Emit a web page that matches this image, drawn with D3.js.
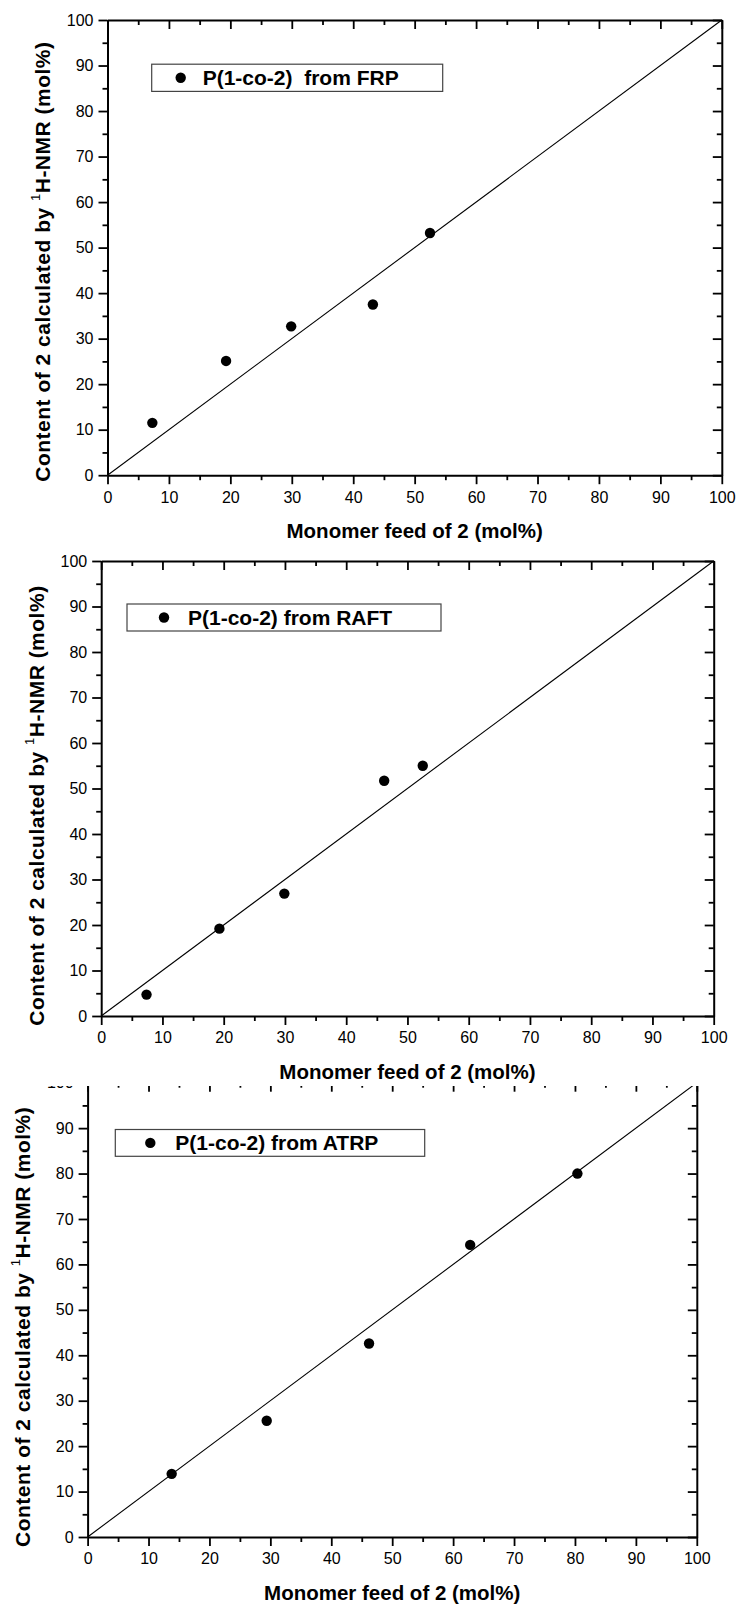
<!DOCTYPE html>
<html>
<head>
<meta charset="utf-8">
<script src="https://cdn.jsdelivr.net/npm/d3@7"></script>
<style>
  html, body { margin: 0; padding: 0; background: #fff; }
  svg { display: block; }
  text { font-family: "Liberation Sans", Arial, Helvetica, sans-serif; fill: #000; }
  .pre { white-space: pre; }
</style>
</head>
<body>
<script>
// Copolymer composition: monomer feed of 2 vs. content of 2 found by 1H-NMR
const majorTicks = [0, 10, 20, 30, 40, 50, 60, 70, 80, 90, 100];
const minorTicks = [5, 15, 25, 35, 45, 55, 65, 75, 85, 95];
const idealLine = [0, 100]; // content = feed

const frpFeed = [7.3, 19.3, 29.9, 43.2, 52.5];
const frpContent = [11.5, 25.1, 32.7, 37.5, 53.2];

const raftFeed = [7.4, 19.3, 29.9, 46.2, 52.5];
const raftContent = [4.7, 19.2, 26.9, 51.7, 55.0];

const atrpFeed = [13.8, 29.4, 46.2, 62.8, 80.4];
const atrpContent = [13.9, 25.6, 42.6, 64.3, 80.0];

const legendLabels = ["P(1-co-2)  from FRP", "P(1-co-2) from RAFT", "P(1-co-2) from ATRP"];
const xTitle = "Monomer feed of 2 (mol%)";

const W = 737, H = 1605;
const svg = d3.select("body").append("svg").attr("width", W).attr("height", H);

// Panel frames (pixel layout)
const panels = [
  { feed: frpFeed, content: frpContent, label: legendLabels[0],
    left: 107.5, right: 721.8, top: 20, bottom: 475.2, titleShift: 14,
    legend: { x: 151.7, y: 64.2, w: 291, h: 27.2, dot: 29, text: 51 } },
  { feed: raftFeed, content: raftContent, label: legendLabels[1],
    left: 101.2, right: 713.7, top: 561, bottom: 1016, titleShift: 17,
    legend: { x: 127, y: 604, w: 314, h: 27, dot: 37, text: 61 } },
  { feed: atrpFeed, content: atrpContent, label: legendLabels[2],
    left: 87.6, right: 696.8, top: 1082.7, bottom: 1537, titleShift: 17, clipTop: 1086,
    legend: { x: 115.3, y: 1129.5, w: 309.4, h: 26.8, dot: 35, text: 60 } }
];

const tickFont = 16;
const defs = svg.append("defs");

function styleAxis(g, width) {
  g.select(".domain").attr("stroke", "#000").attr("stroke-width", width);
  g.selectAll(".tick line").attr("stroke", "#000").attr("stroke-width", 1.8);
  g.selectAll(".tick text").attr("font-size", tickFont).attr("fill", "#000");
}
function minor(a) {
  a.select(".domain").remove();
  a.selectAll(".tick line").attr("stroke", "#000").attr("stroke-width", 1.8);
}

function drawPanel(p, i) {
  const g = svg.append("g");
  if (p.clipTop !== undefined) {
    defs.append("clipPath").attr("id", "clip" + i)
      .append("rect").attr("x", 0).attr("y", p.clipTop).attr("width", W).attr("height", H - p.clipTop);
    g.attr("clip-path", `url(#clip${i})`);
  }

  const x = d3.scaleLinear().domain([0, 100]).range([p.left, p.right]);
  const y = d3.scaleLinear().domain([0, 100]).range([p.bottom, p.top]);

  // ideal y = x line
  g.append("line")
    .attr("x1", x(idealLine[0])).attr("y1", y(idealLine[0]))
    .attr("x2", x(idealLine[1])).attr("y2", y(idealLine[1]))
    .attr("stroke", "#000").attr("stroke-width", 1.1);

  // bottom axis (outward ticks, labelled)
  g.append("g").attr("transform", `translate(0,${p.bottom})`)
    .call(d3.axisBottom(x).tickValues(majorTicks).tickSize(9).tickSizeOuter(0).tickPadding(7))
    .call(a => styleAxis(a, 2));
  g.append("g").attr("transform", `translate(0,${p.bottom})`)
    .call(d3.axisBottom(x).tickValues(minorTicks).tickSize(5).tickFormat("")).call(minor);

  // left axis (outward ticks, labelled)
  g.append("g").attr("transform", `translate(${p.left},0)`)
    .call(d3.axisLeft(y).tickValues(majorTicks).tickSize(9).tickSizeOuter(0).tickPadding(5))
    .call(a => styleAxis(a, 2));
  g.append("g").attr("transform", `translate(${p.left},0)`)
    .call(d3.axisLeft(y).tickValues(minorTicks).tickSize(5).tickFormat("")).call(minor);

  // top axis (inward ticks)
  g.append("g").attr("transform", `translate(0,${p.top})`)
    .call(d3.axisTop(x).tickValues(majorTicks).tickSize(-9).tickSizeOuter(0).tickFormat(""))
    .call(a => styleAxis(a, 2));
  g.append("g").attr("transform", `translate(0,${p.top})`)
    .call(d3.axisTop(x).tickValues(minorTicks).tickSize(-5).tickFormat("")).call(minor);

  // right axis (inward ticks)
  g.append("g").attr("transform", `translate(${p.right},0)`)
    .call(d3.axisRight(y).tickValues(majorTicks).tickSize(-9).tickSizeOuter(0).tickFormat(""))
    .call(a => styleAxis(a, 2));
  g.append("g").attr("transform", `translate(${p.right},0)`)
    .call(d3.axisRight(y).tickValues(minorTicks).tickSize(-5).tickFormat("")).call(minor);

  // data points
  g.selectAll("circle.pt").data(d3.zip(p.feed, p.content)).join("circle")
    .attr("class", "pt")
    .attr("cx", d => x(d[0])).attr("cy", d => y(d[1]))
    .attr("r", 5.2).attr("fill", "#000");

  // legend
  const L = p.legend;
  g.append("rect").attr("x", L.x).attr("y", L.y).attr("width", L.w).attr("height", L.h)
    .attr("fill", "#fff").attr("stroke", "#444").attr("stroke-width", 1.2);
  g.append("circle").attr("cx", L.x + L.dot).attr("cy", L.y + L.h / 2).attr("r", 5.2).attr("fill", "#000");
  g.append("text").attr("class", "pre").attr("x", L.x + L.text).attr("y", L.y + L.h / 2)
    .attr("dy", "0.36em").attr("font-size", 21).attr("font-weight", "bold")
    .text(p.label);

  // x title
  g.append("text").attr("x", (p.left + p.right) / 2).attr("y", p.bottom + 63)
    .attr("text-anchor", "middle").attr("font-size", 20.5).attr("font-weight", "bold")
    .text(xTitle);

  // y title with superscript
  const cy = (p.top + p.bottom) / 2 + p.titleShift;
  const yt = g.append("text")
    .attr("transform", `translate(${p.left - 65},${cy}) rotate(-90)`)
    .attr("text-anchor", "middle").attr("dy", "0.36em")
    .attr("font-size", 21).attr("font-weight", "bold").attr("letter-spacing", 0.5);
  yt.append("tspan").text("Content of 2 calculated by ");
  yt.append("tspan").attr("font-size", 13).attr("font-weight", "normal").attr("dy", "-0.75em").text("1");
  yt.append("tspan").attr("dy", "0.47em").text("H-NMR (mol%)");
}

// lower panel first so the panel above can sit over its clipped top edge
[2, 1, 0].forEach(i => drawPanel(panels[i], i));
</script>
</body>
</html>
